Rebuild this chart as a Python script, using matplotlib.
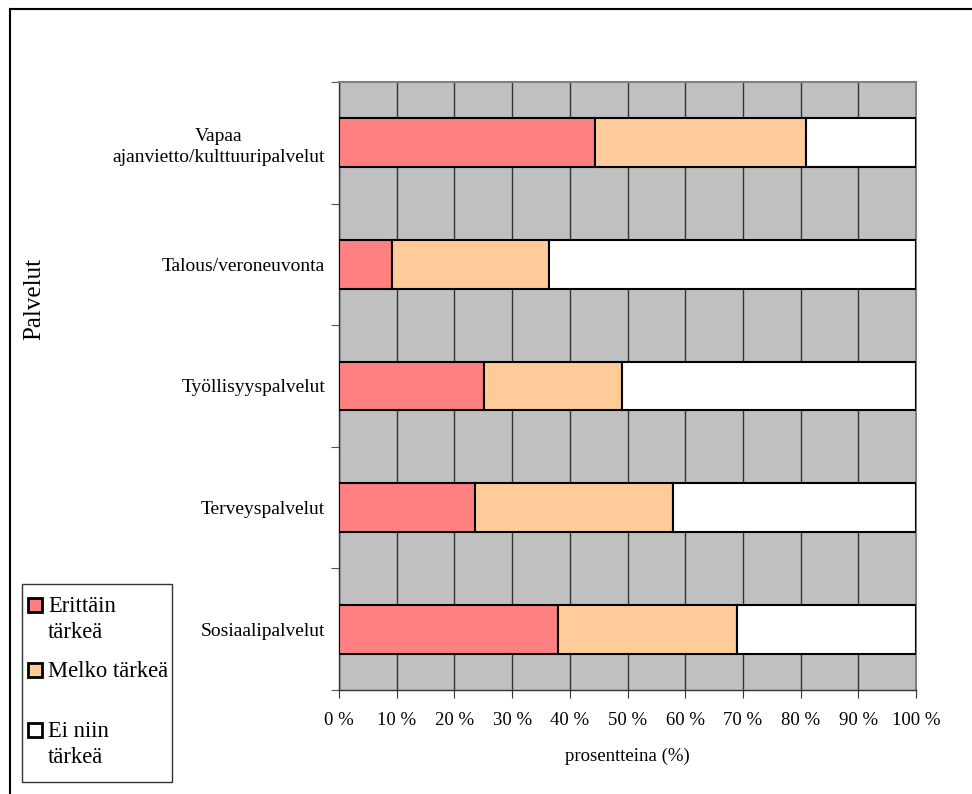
import matplotlib.pyplot as plt
from matplotlib.lines import Line2D
from matplotlib.patches import Rectangle
import numpy as np

# palvelut from bottom to top
categories = ['Sosiaalipalvelut', 'Terveyspalvelut', 'Työllisyyspalvelut',
              'Talous/veroneuvonta', 'Vapaa\najanvietto/kulttuuripalvelut']
erittain = [38.0, 23.6, 25.2, 9.2, 44.4]
melko = [31.0, 34.3, 23.8, 27.2, 36.5]
ei_niin = [31.0, 42.1, 51.0, 63.6, 19.1]
series_labels = ['Erittäin\ntärkeä', 'Melko tärkeä', 'Ei niin\ntärkeä']
series_colors = ['#ff8080', '#ffcc99', '#ffffff']
x_ticks = np.arange(0, 101, 10)
x_ticklabels = ['%d %%' % v for v in x_ticks]

plt.rcParams['font.family'] = ['Liberation Serif', 'DejaVu Serif']

W, H = 972, 794
fig = plt.figure(figsize=(W / 100, H / 100), dpi=100)
ax = fig.add_axes([339 / W, 1 - 690 / H, 577 / W, 608 / H])
ax.set_facecolor('#c0c0c0')

y = np.arange(len(categories))
left = np.zeros(len(categories))
for vals, lab, col in zip([erittain, melko, ei_niin], series_labels, series_colors):
    ax.barh(y, vals, left=left, height=0.4, color=col, edgecolor='black',
            linewidth=1.5, label=lab, zorder=3)
    left += np.array(vals)

ax.set_xlim(0, 100)
ax.set_ylim(-0.5, len(categories) - 0.5)
ax.set_xticks(x_ticks)
ax.set_xticklabels(x_ticklabels, fontsize=13.5)
ax.xaxis.grid(True, color='#333333', linewidth=1.0, zorder=1)
ax.set_axisbelow(True)

# ticks at category boundaries, labels at centres
ax.set_yticks(np.arange(-0.5, len(categories), 1.0))
ax.set_yticklabels([])
ax.set_yticks(y, minor=True)
ax.set_yticklabels(categories, minor=True, fontsize=14, multialignment='center',
                   linespacing=1.35)
ax.tick_params(axis='y', which='minor', length=0, pad=10)
ax.tick_params(axis='y', which='major', length=6, direction='out', color='#555555')
ax.tick_params(axis='x', length=6, direction='out', pad=10, color='#333333')

for s in ['top', 'right']:
    ax.spines[s].set_color('#808080')
    ax.spines[s].set_linewidth(1.5)
for s in ['left', 'bottom']:
    ax.spines[s].set_color('#333333')
    ax.spines[s].set_linewidth(1.0)

ax.set_xlabel('prosentteina (%)', fontsize=13.5, labelpad=13)
fig.text(34 / W, 1 - 299 / H, 'Palvelut', rotation=90, fontsize=18,
         ha='center', va='center')

# legend box drawn by hand so the keys sit at the first text line
fig.add_artist(Rectangle((22 / W, 1 - 782 / H), 150 / W, 198 / H, fill=False,
                         edgecolor='#333333', linewidth=1.0,
                         transform=fig.transFigure))
key_baselines = [612, 677, 737]
for base, lab, col in zip(key_baselines, series_labels, series_colors):
    fig.add_artist(Rectangle((28 / W, 1 - (base - 0.5) / H), 14 / W, 14 / H,
                             facecolor=col, edgecolor='black', linewidth=2.0,
                             transform=fig.transFigure))
    for i, line in enumerate(lab.split('\n')):
        fig.text(48 / W, 1 - (base + 26 * i) / H, line, fontsize=16.3,
                 ha='left', va='baseline')

# outer chart frame (top and left edges visible)
fig.add_artist(Line2D([10 / W, 1], [1 - 9 / H, 1 - 9 / H],
                      color='black', linewidth=1.5, transform=fig.transFigure))
fig.add_artist(Line2D([10 / W, 10 / W], [0, 1 - 9 / H],
                      color='black', linewidth=1.5, transform=fig.transFigure))

fig.savefig('out.png', dpi=100)
